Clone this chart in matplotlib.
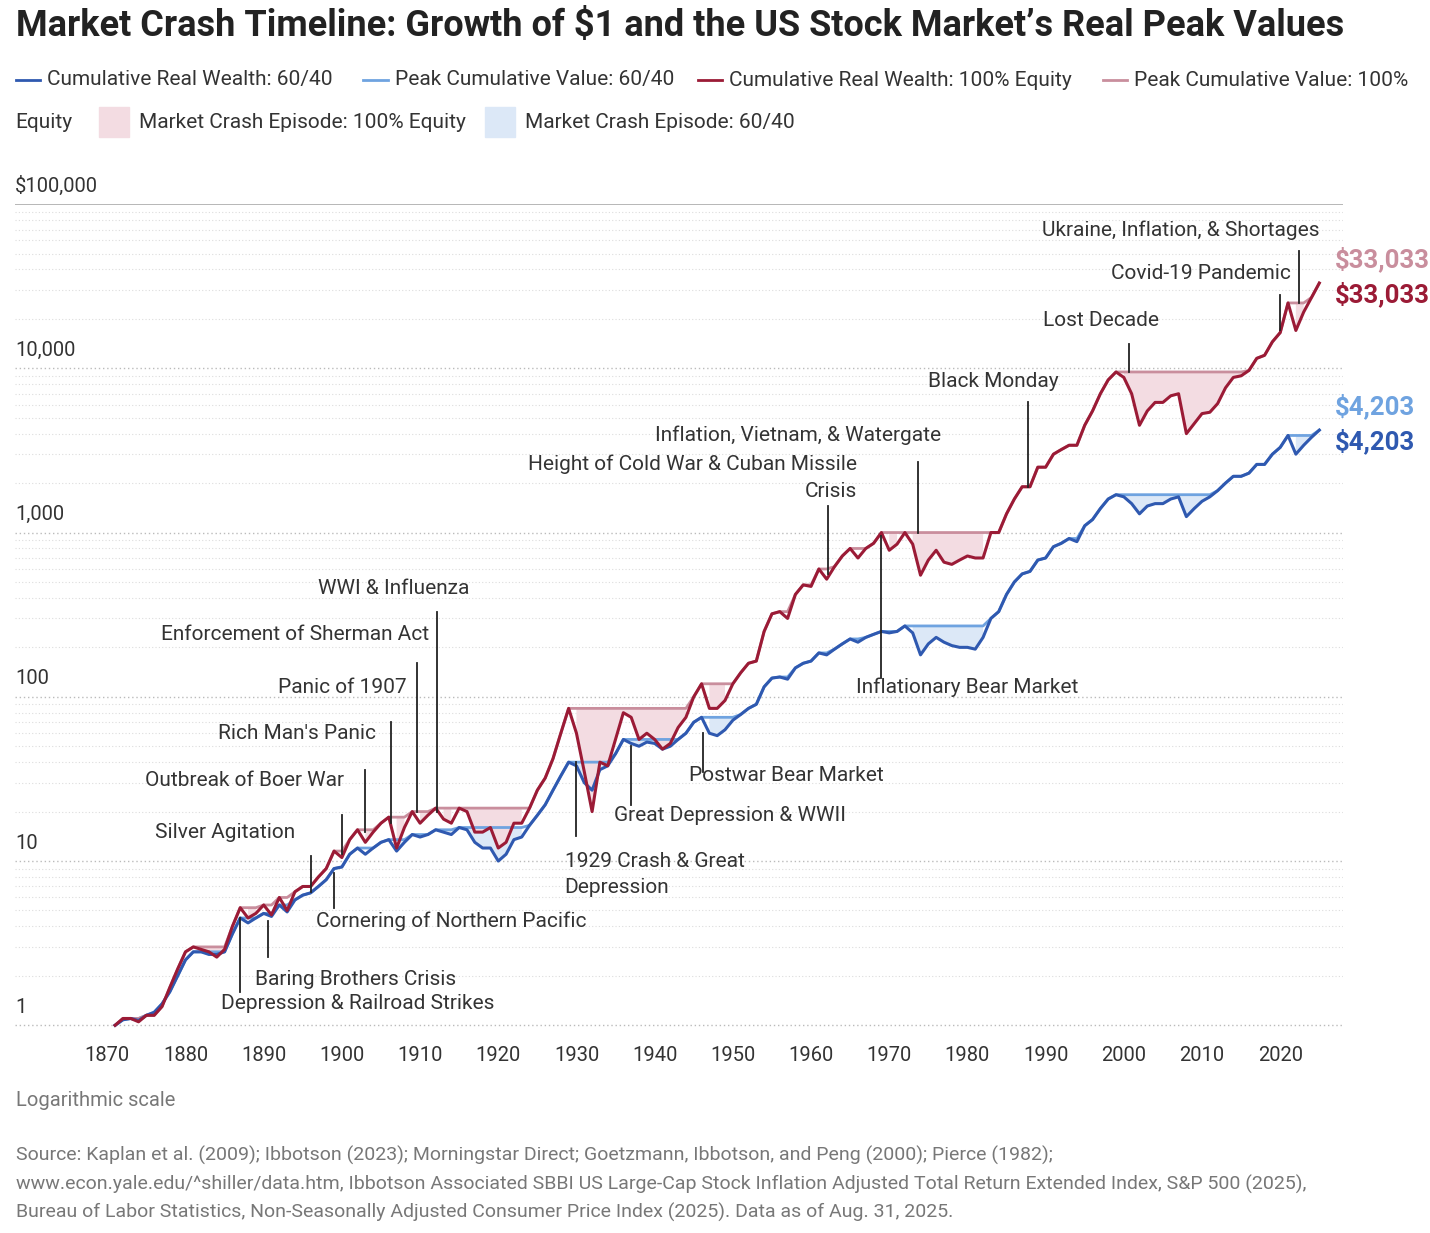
import numpy as np
import matplotlib.pyplot as plt
from matplotlib.lines import Line2D
from matplotlib.patches import Rectangle

plt.rcParams['font.family'] = ['Liberation Sans Narrow', 'Roboto', 'DejaVu Sans']

years = list(range(1871, 2026))
equity = [1.0, 1.1, 1.1, 1.05, 1.15, 1.15, 1.3, 1.7, 2.2, 2.8,
          3.0, 2.9, 2.8, 2.6, 2.9, 4.0, 5.2, 4.5, 4.8, 5.4,
          4.7, 6.0, 5.0, 6.5, 7.0, 7.0, 8.0, 9.0, 11.5, 10.5,
          13.5, 15.5, 13.0, 15.0, 17.0, 18.5, 12.0, 16.0, 20.0, 17.0,
          19.0, 21.0, 18.0, 17.0, 21.0, 20.0, 15.0, 15.0, 16.0, 12.0,
          13.0, 17.0, 17.0, 21.0, 27.0, 32.0, 42.0, 60.0, 85.0, 60.0,
          35.0, 20.0, 40.0, 38.0, 55.0, 80.0, 75.0, 55.0, 60.0, 55.0,
          48.0, 52.0, 65.0, 75.0, 100.0, 120.0, 85.0, 85.0, 95.0, 120.0,
          140.0, 160.0, 165.0, 250.0, 320.0, 330.0, 300.0, 420.0, 480.0, 470.0,
          600.0, 520.0, 620.0, 720.0, 800.0, 700.0, 800.0, 860.0, 1000.0, 780.0,
          850.0, 1000.0, 850.0, 550.0, 680.0, 780.0, 660.0, 640.0, 680.0, 720.0,
          700.0, 700.0, 1000.0, 1000.0, 1300.0, 1600.0, 1900.0, 1900.0, 2500.0, 2500.0,
          3000.0, 3200.0, 3400.0, 3400.0, 4500.0, 5500.0, 7000.0, 8500.0, 9500.0, 8800.0,
          7000.0, 4500.0, 5500.0, 6200.0, 6200.0, 6800.0, 7000.0, 4000.0, 4600.0, 5300.0,
          5400.0, 6100.0, 7600.0, 8800.0, 9000.0, 9700.0, 11500.0, 12000.0, 14500.0, 16500.0,
          25000.0, 17000.0, 22000.0, 27000.0, 33033.0]
mix6040 = [1.0, 1.08, 1.1, 1.07, 1.15, 1.2, 1.35, 1.6, 2.0, 2.5,
           2.8, 2.8, 2.7, 2.7, 2.8, 3.6, 4.5, 4.2, 4.5, 4.8,
           4.6, 5.4, 4.9, 5.8, 6.2, 6.4, 7.0, 7.7, 9.0, 9.2,
           11.0, 12.0, 11.0, 12.0, 13.0, 13.5, 11.5, 13.0, 14.5, 14.0,
           14.5, 15.5, 15.0, 14.5, 16.0, 15.5, 13.0, 12.0, 12.0, 10.0,
           11.0, 13.5, 14.0, 16.5, 19.0, 22.0, 27.0, 33.0, 40.0, 38.0,
           30.0, 27.0, 36.0, 38.0, 45.0, 55.0, 52.0, 50.0, 53.0, 52.0,
           48.0, 50.0, 55.0, 60.0, 70.0, 75.0, 60.0, 58.0, 63.0, 72.0,
           78.0, 85.0, 90.0, 115.0, 130.0, 132.0, 128.0, 150.0, 160.0, 165.0,
           185.0, 180.0, 195.0, 210.0, 225.0, 215.0, 230.0, 240.0, 250.0, 245.0,
           250.0, 270.0, 245.0, 180.0, 210.0, 230.0, 215.0, 205.0, 200.0, 200.0,
           195.0, 230.0, 300.0, 330.0, 420.0, 500.0, 560.0, 580.0, 680.0, 700.0,
           820.0, 860.0, 920.0, 880.0, 1100.0, 1200.0, 1400.0, 1600.0, 1700.0, 1650.0,
           1500.0, 1300.0, 1450.0, 1500.0, 1500.0, 1600.0, 1650.0, 1250.0, 1400.0, 1550.0,
           1650.0, 1800.0, 2000.0, 2200.0, 2200.0, 2300.0, 2600.0, 2600.0, 3000.0, 3300.0,
           3900.0, 3000.0, 3400.0, 3800.0, 4203.0]

# (label, line x, line from, line to, text x, text y, ha)
notes = [
    ("Depression & Railroad Strikes", 1887, 4.5, 1.6, 1902, 1.36, 'center'),
    ("Baring Brothers Crisis", 1890.5, 4.3, 2.6, 1901.7, 1.9, 'center'),
    ("Cornering of Northern Pacific", 1899, 8.5, 5.2, 1914, 4.3, 'center'),
    ("Silver Agitation", 1896, 6.5, 10.7, 1885, 14.9, 'center'),
    ("Outbreak of Boer War", 1900, 11, 19, 1887.6, 31, 'center'),
    ("Rich Man's Panic", 1903, 15, 36, 1894.3, 60, 'center'),
    ("Panic of 1907", 1906.3, 17, 70, 1900, 114, 'center'),
    ("Enforcement of Sherman Act", 1909.6, 20, 160, 1894, 240, 'center'),
    ("WWI & Influenza", 1912.2, 20, 330, 1906.6, 455, 'center'),
    ("1929 Crash & Great\nDepression", 1930, 40, 14.3, 1928.5, 8.3, 'left'),
    ("Great Depression & WWII", 1937, 50, 22, 1949.6, 18.9, 'center'),
    ("Postwar Bear Market", 1946.2, 60, 35, 1956.8, 33, 'center'),
    ("Height of Cold War & Cuban Missile\nCrisis", 1962.2, 560, 1450, 1965.9, 2150, 'right'),
    ("Inflation, Vietnam, & Watergate", 1973.7, 1000, 2700, 1958.4, 3900, 'center'),
    ("Inflationary Bear Market", 1969, 950, 130, 1980, 114, 'center'),
    ("Black Monday", 1987.8, 1900, 6200, 1983.3, 8300, 'center'),
    ("Lost Decade", 2000.7, 9500, 14000, 1997.1, 19600, 'center'),
    ("Covid-19 Pandemic", 2020, 17000, 28000, 2009.8, 38000, 'center'),
    ("Ukraine, Inflation, & Shortages", 2022.4, 25000, 52000, 2007.3, 69000, 'center'),
]

red = '#9B1B36'
blue = '#2F59B0'
pink = '#C98E9D'
lblue = '#6FA3E0'
fpink = '#F3DCE2'
fblue = '#DCE8F7'

yrs = np.array(years, dtype=float)
eq = np.array(equity)
mx = np.array(mix6040)
eq_pk = np.maximum.accumulate(eq)
mx_pk = np.maximum.accumulate(mx)

fig = plt.figure(figsize=(14.3, 12.33), dpi=100)
ax = fig.add_axes([0.0105, 0.1655, 0.9285, 0.669])

ax.fill_between(yrs, mx, mx_pk, where=mx < mx_pk, color=fblue, lw=0, zorder=1)
ax.fill_between(yrs, eq, eq_pk, where=eq < eq_pk, color=fpink, lw=0, zorder=1)
ax.plot(yrs, mx_pk, color=lblue, lw=2, zorder=2)
ax.plot(yrs, eq_pk, color=pink, lw=2, zorder=2)
ax.plot(yrs, mx, color=blue, lw=2.2, zorder=3)
ax.plot(yrs, eq, color=red, lw=2.2, zorder=3)

ax.set_yscale('log')
ax.set_ylim(0.95, 100000)
ax.set_xlim(1858.2, 2028)
for v in [1, 10, 100, 1000, 10000]:
    ax.axhline(v, color='#bbbbbb', lw=1, ls=(0, (1, 2)), zorder=0)
    for m in range(2, 10):
        ax.axhline(v * m, color='#dddddd', lw=0.8, ls=(0, (1, 2)), zorder=0)
ax.axhline(100000, color='#aaaaaa', lw=1.2, zorder=0)
for v, s in [(1, '1'), (10, '10'), (100, '100'), (1000, '1,000'),
             (10000, '10,000'), (100000, '$100,000')]:
    ax.annotate(s, (0, v), xycoords=('axes fraction', 'data'), xytext=(0, 6),
                textcoords='offset points', fontsize=14.5, color='#333333', va='bottom')
ax.set_yticks([])
ax.set_yticks([], minor=True)
ax.set_xticks(range(1870, 2021, 10))
ax.tick_params(axis='x', length=0, labelsize=14.5, labelcolor='#333333', pad=12)
for s in ax.spines.values():
    s.set_visible(False)

for text, lx, y0, y1, tx, ty, ha in notes:
    ax.plot([lx, lx], [y0, y1], color='#222222', lw=1.3, zorder=4)
    ax.text(tx, ty, text, ha=ha, va='center', fontsize=15, color='#333333',
            linespacing=1.5, zorder=5)

for val, c1, c2 in [(equity[-1], pink, red), (mix6040[-1], lblue, blue)]:
    lab = '${:,.0f}'.format(val)
    ax.annotate(lab, (2025, val), xytext=(11, 17), textcoords='offset points',
                fontsize=18.5, fontweight='bold', color=c1, va='center')
    ax.annotate(lab, (2025, val), xytext=(11, -8), textcoords='offset points',
                fontsize=18.5, fontweight='bold', color=c2, va='center')

fig.text(0.011, 0.979, "Market Crash Timeline: Growth of $1 and the US Stock Market\u2019s Real Peak Values",
         fontsize=26, fontweight='bold', color='#222222', va='center')

def leg_line(x, y, c, label):
    fig.add_artist(Line2D([x, x + 0.017], [y, y], color=c, lw=2, transform=fig.transFigure))
    fig.text(x + 0.022, y, label, fontsize=15, color='#333333', va='center')

def leg_box(x, y, c, label):
    fig.add_artist(Rectangle((x, y - 0.012), 0.021, 0.024, color=c, transform=fig.transFigure))
    fig.text(x + 0.028, y, label, fontsize=15, color='#333333', va='center')

ly1 = 1 - 80 / 1233
ly2 = 1 - 122 / 1233
leg_line(0.011, ly1, blue, "Cumulative Real Wealth: 60/40")
leg_line(0.254, ly1, lblue, "Peak Cumulative Value: 60/40")
leg_line(0.488, ly1, red, "Cumulative Real Wealth: 100% Equity")
leg_line(0.771, ly1, pink, "Peak Cumulative Value: 100%")
fig.text(0.011, ly2, "Equity", fontsize=15, color='#333333', va='center')
leg_box(0.069, ly2, fpink, "Market Crash Episode: 100% Equity")
leg_box(0.339, ly2, fblue, "Market Crash Episode: 60/40")

fig.text(0.011, 1 - 1100 / 1233, "Logarithmic scale", fontsize=14.5, color='#777777', va='center')
src = ("Source: Kaplan et al. (2009); Ibbotson (2023); Morningstar Direct; Goetzmann, Ibbotson, and Peng (2000); Pierce (1982);\n"
       "www.econ.yale.edu/^shiller/data.htm, Ibbotson Associated SBBI US Large-Cap Stock Inflation Adjusted Total Return Extended Index, S&P 500 (2025),\n"
       "Bureau of Labor Statistics, Non-Seasonally Adjusted Consumer Price Index (2025). Data as of Aug. 31, 2025.")
fig.text(0.011, 1 - 1184 / 1233, src, fontsize=14, color='#777777', va='center', linespacing=1.6)

fig.savefig('out.png', dpi=100)
